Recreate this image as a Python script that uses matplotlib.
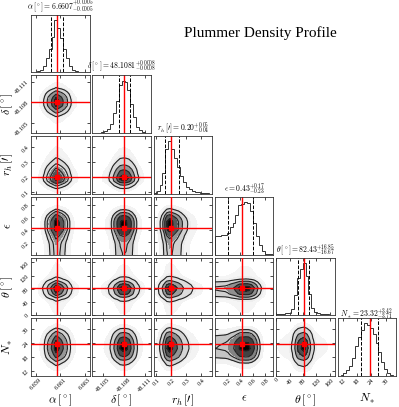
import numpy as np
import matplotlib
matplotlib.use("Agg")
import matplotlib.pyplot as plt
from matplotlib.ticker import FixedLocator, FormatStrFormatter
from matplotlib.colors import LinearSegmentedColormap

plt.rcParams['font.family'] = 'serif'
plt.rcParams['font.serif'] = ['Liberation Serif', 'DejaVu Serif']
plt.rcParams['mathtext.fontset'] = 'cm'

# axis labels and title names
labels = [r"$\alpha\,[^\circ]$", r"$\delta\,[^\circ]$", r"$r_h\,[\prime]$",
          r"$\epsilon$", r"$\theta\,[^\circ]$", r"$N_*$"]
title_names = [r"\alpha\,[^\circ]", r"\delta\,[^\circ]", r"r_h\,[\prime]",
               r"\epsilon", r"\theta\,[^\circ]", r"N_*"]

# medians and 16/84 percentile errors
medians = [6.6607, 48.1081, 0.20, 0.43, 82.43, 23.32]
err_hi = [0.0005, 0.0008, 0.05, 0.17, 16.85, 3.42]
err_lo = [0.0005, 0.0008, 0.04, 0.23, 16.67, 3.71]
title_fmt = ['%.4f', '%.4f', '%.2f', '%.2f', '%.2f', '%.2f']

# plotted ranges of each parameter
ranges = [(6.6586, 6.6634), (48.1035, 48.1119), (0.085, 0.47),
          (0.0, 0.93), (0.0, 175.0), (9.8, 34.4)]

# tick values
ticks = [[6.659, 6.661, 6.663], [48.105, 48.108, 48.111], [0.1, 0.2, 0.3, 0.4],
         [0.2, 0.4, 0.6, 0.8], [0, 40, 80, 120, 160], [12, 18, 24, 30]]
tick_fmt = ['%.3f', '%.3f', '%.1f', '%.1f', '%d', '%d']

# 1D marginal histograms (20 bins over each range)
hist_alpha = [0, 0.5, 2, 5, 12, 27, 45, 68, 100, 85, 65, 45, 27, 12, 5, 3, 1.5, 0.5, 0.2, 0]
hist_delta = [0, 0.5, 1, 3, 5, 8, 18, 38, 62, 92, 100, 97, 82, 55, 30, 12, 6, 3, 1, 0.3]
hist_rh = [2, 5, 17, 40, 85, 100, 85, 68, 52, 35, 22, 14, 9, 6, 4, 3, 2, 1, 1, 0.5]
hist_eps = [35, 36, 37, 38, 42, 52, 61, 76, 95, 97, 100, 98, 83, 60, 36, 18, 7, 2, 1, 0.5]
hist_theta = [2, 2.5, 3, 4, 5, 12, 38, 72, 88, 100, 75, 40, 14, 6, 4, 3, 2.5, 2, 1.5, 1]
hist_nstar = [1, 2, 6, 11, 19, 35, 58, 75, 88, 100, 97, 92, 80, 62, 45, 27, 13, 5, 2, 1]
hists = [hist_alpha, hist_delta, hist_rh, hist_eps, hist_theta, hist_nstar]

sigmas = [0.5, 1.0, 1.5, 2.0]


def contour_levels(H, masses):
    flat = np.sort(H.ravel())[::-1]
    cs = np.cumsum(flat)
    cs /= cs[-1]
    V = []
    for m in masses:
        idx = np.searchsorted(cs, m)
        V.append(flat[min(idx, len(flat) - 1)])
    return np.sort(V)


def style_ticks(ax):
    ax.tick_params(direction='in', top=True, right=True, length=2, width=0.5,
                   labelsize=4.5, pad=1)
    for s in ax.spines.values():
        s.set_linewidth(0.6)
        s.set_color('#333333')


n = len(hists)
fig, axes = plt.subplots(n, n, figsize=(3.99, 4.07), dpi=100)
plt.subplots_adjust(left=0.078, right=0.9925, bottom=0.076, top=0.964,
                    wspace=0.05, hspace=0.05)

cloud_cmap = LinearSegmentedColormap.from_list('cloud', ['#f7f7f7', '#e9e9e9'])

for i in range(n):
    for j in range(n):
        ax = axes[i, j]
        if j > i:
            ax.axis('off')
            continue
        lo_x, hi_x = ranges[j]
        edges_x = np.linspace(lo_x, hi_x, len(hists[j]) + 1)
        if i == j:
            counts = np.array(hists[i], dtype=float)
            centers = 0.5 * (edges_x[1:] + edges_x[:-1])
            ax.hist(centers, bins=edges_x, weights=counts, histtype='step',
                    color='#333333', lw=0.7)
            ax.set_ylim(0, counts.max() * 1.1)
            ax.axvline(medians[i] - err_lo[i], color='k', ls='--', lw=0.7)
            ax.axvline(medians[i] + err_hi[i], color='k', ls='--', lw=0.7)
            ax.axvline(medians[i], color='red', lw=1.0)
            ax.set_yticks([])
            f = title_fmt[i]
            ttl = r"$%s = %s^{+%s}_{-%s}$" % (title_names[i], f % medians[i],
                                             f % err_hi[i], f % err_lo[i])
            ax.set_title(ttl, fontsize=5.5, pad=1)
        else:
            lo_y, hi_y = ranges[i]
            edges_y = np.linspace(lo_y, hi_y, len(hists[i]) + 1)
            hx = np.array(hists[j], dtype=float)
            hy = np.array(hists[i], dtype=float)
            H = np.outer(hy, hx)
            H /= H.max()
            cx = 0.5 * (edges_x[1:] + edges_x[:-1])
            cy = 0.5 * (edges_y[1:] + edges_y[:-1])
            dx = cx[1] - cx[0]
            dy = cy[1] - cy[0]
            # pad so contours run off the panel edges
            Hp = np.pad(H, 1, mode='edge')
            cxp = np.concatenate([[cx[0] - dx], cx, [cx[-1] + dx]])
            cyp = np.concatenate([[cy[0] - dy], cy, [cy[-1] + dy]])
            V = contour_levels(H, [1 - np.exp(-0.5 * s ** 2) for s in sigmas])
            Vcloud = contour_levels(H, [0.9, 0.96])
            ax.contourf(cxp, cyp, Hp, levels=[Vcloud[0], Vcloud[1], V[0]],
                        cmap=cloud_cmap, zorder=1)
            inner = np.concatenate([np.linspace(V[0], V[-1], 4), np.linspace(V[-1], 1.0, 6)[1:]])
            ax.contourf(cxp, cyp, Hp, levels=np.unique(np.append(inner, 1.01)),
                        cmap='Greys', vmin=-0.05, vmax=1.0, zorder=2)
            ax.contour(cxp, cyp, Hp, levels=V, colors='#222222', linewidths=0.8, zorder=3)
            ax.axvline(medians[j], color='red', lw=1.0, zorder=4)
            ax.axhline(medians[i], color='red', lw=1.0, zorder=4)
            ax.plot(medians[j], medians[i], 's', color='red', ms=2.2, zorder=5)
            ax.set_ylim(lo_y, hi_y)
            ax.yaxis.set_major_locator(FixedLocator(ticks[i]))
            ax.yaxis.set_major_formatter(FormatStrFormatter(tick_fmt[i]))
            if j == 0:
                ax.set_ylabel(labels[i], fontsize=8.5)
                ax.yaxis.set_label_coords(-0.28, 0.5)
                for t in ax.get_yticklabels():
                    t.set_rotation(45)
            else:
                ax.set_yticklabels([])
        ax.set_xlim(lo_x, hi_x)
        ax.xaxis.set_major_locator(FixedLocator(ticks[j]))
        ax.xaxis.set_major_formatter(FormatStrFormatter(tick_fmt[j]))
        style_ticks(ax)
        if i == n - 1:
            ax.set_xlabel(labels[j], fontsize=8.5)
            ax.xaxis.set_label_coords(0.5, -0.28)
            for t in ax.get_xticklabels():
                t.set_rotation(45)
        else:
            ax.set_xticklabels([])

fig.text(0.652, 0.918, "Plummer Density Profile", fontsize=11, ha='center', va='center')

fig.savefig("out.png", dpi=100)
